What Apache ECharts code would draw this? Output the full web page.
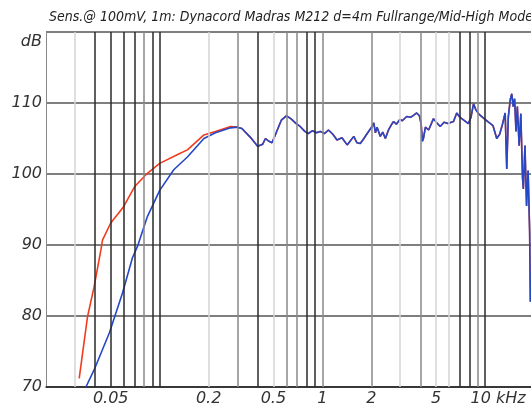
<!DOCTYPE html>
<html>
<head>
<meta charset="utf-8">
<script src="https://cdn.jsdelivr.net/npm/echarts@6/dist/echarts.min.js"></script>
<style>
  html, body { margin: 0; padding: 0; background: #fff; }
  #chart { width: 531px; height: 409px; }
</style>
</head>
<body>
<div id="chart"></div>
<script>
// frequencies in kHz, levels in dB
const redLowFreq = [0.032, 0.036, 0.0395, 0.0435, 0.0445, 0.05, 0.06, 0.07, 0.084, 0.1, 0.128, 0.148, 0.187, 0.22, 0.273];
const redLowDb   = [71.2, 79.9, 84.1, 89.3, 90.7, 93.1, 95.4, 98.2, 100.1, 101.5, 102.7, 103.4, 105.5, 106.0, 106.7];

const blueLowFreq = [0.0352, 0.0395, 0.049, 0.059, 0.068, 0.073, 0.084, 0.1, 0.122, 0.148, 0.187, 0.22, 0.273];
const blueLowDb   = [70.0, 72.4, 77.6, 83.2, 88.2, 89.8, 94.0, 97.7, 100.6, 102.4, 105.0, 105.8, 106.5];

// both measurements coincide above ~0.3 kHz
const highFreq = [0.30, 0.32, 0.36, 0.40, 0.43, 0.447, 0.47, 0.49, 0.52, 0.56, 0.60, 0.64, 0.69, 0.73, 0.78, 0.82, 0.87, 0.92, 0.97,
  1.03, 1.09, 1.16, 1.23, 1.32, 1.42, 1.50, 1.56, 1.63, 1.71, 1.80, 1.90, 2.02, 2.07, 2.12, 2.17, 2.27, 2.35, 2.44, 2.55, 2.65, 2.74, 2.85,
  3.0, 3.1, 3.3, 3.5, 3.65, 3.8, 3.95, 4.05, 4.12, 4.18, 4.3, 4.5, 4.82, 5.05, 5.3, 5.6, 5.9, 6.4, 6.7, 7.0, 7.4, 7.9, 8.2, 8.5, 8.8, 9.2,
  10.0, 10.5, 11.2, 11.8, 12.3, 12.8, 13.3, 13.6, 13.9, 14.3, 14.6, 14.9, 15.2, 15.5, 15.8, 16.2, 16.6, 17.0, 17.2, 17.6, 18.0, 18.4, 18.8, 19.0];
const highDb = [106.6, 106.4, 105.2, 103.9, 104.2, 105.0, 104.6, 104.4, 105.8, 107.6, 108.2, 107.8, 107.1, 106.7, 106.0, 105.7, 106.1, 105.8, 106.0,
  105.7, 106.2, 105.6, 104.8, 105.1, 104.1, 104.8, 105.3, 104.4, 104.3, 105.0, 105.8, 106.7, 107.2, 105.8, 106.6, 105.3, 105.9, 105.0, 106.2, 106.9, 107.4, 107.0,
  107.7, 107.5, 108.1, 108.0, 108.3, 108.6, 108.2, 107.0, 104.6, 105.0, 106.6, 106.2, 107.8, 107.2, 106.7, 107.3, 107.1, 107.4, 108.6, 108.0, 107.6, 107.1, 108.0, 109.9, 109.0, 108.4,
  107.7, 107.3, 106.8, 105.0, 105.6, 107.0, 108.6, 100.7, 108.0, 110.5, 111.3, 109.5, 110.6, 106.0, 109.5, 104.0, 108.5, 99.5, 97.9, 104.0, 95.5, 100.5, 92.0, 82.0];

const freqLabels = [0.05, 0.2, 0.5, 1, 2, 5, 10];
const gridDark  = [0.04, 0.05, 0.06, 0.07, 0.09, 0.1, 0.4, 0.8, 0.9, 7, 8, 10];
const gridMid   = [0.08, 0.3, 0.6, 0.7, 1, 2, 4, 9];
const gridLight = [0.03, 0.2, 0.5, 3, 5, 6];

const pairs = (fs, ds) => fs.map((f, i) => [f, ds[i]]);
const redData = pairs(redLowFreq, redLowDb).concat(pairs(highFreq, highDb));
const blueData = pairs(blueLowFreq, blueLowDb).concat(pairs(highFreq, highDb));

const vLines = (vals, color) => vals.map((v) => ({ xAxis: v, lineStyle: { color: color } }));

const labelFont = { fontFamily: 'DejaVu Sans', fontSize: 16, fontStyle: 'italic', color: '#333' };

const chart = echarts.init(document.getElementById('chart'), null, { renderer: 'canvas' });
chart.setOption({
  backgroundColor: '#fff',
  animation: false,
  title: {
    text: 'Sens.@ 100mV, 1m: Dynacord Madras M212 d=4m Fullrange/Mid-High Mode',
    left: 44,
    top: 5,
    textStyle: { fontFamily: 'DejaVu Sans Condensed, Liberation Sans Narrow, sans-serif', fontSize: 14, fontStyle: 'italic', fontWeight: 'normal', color: '#222' }
  },
  grid: { left: 46, right: -3, top: 32, bottom: 22, outerBoundsMode: 'none' },
  xAxis: {
    type: 'log',
    logBase: 10,
    min: 0.02,
    max: 20,
    axisLine: { lineStyle: { color: '#222', width: 1.5 } },
    axisTick: { show: false },
    splitLine: { show: false },
    minorSplitLine: { show: false },
    axisLabel: Object.assign({}, labelFont, {
      customValues: freqLabels,
      margin: 4,
      formatter: (v) => (Math.abs(v - 10) < 1e-6 ? '{k|10 kHz}' : String(+v.toPrecision(3))),
      rich: { k: Object.assign({}, labelFont, { padding: [0, 0, 0, 26] }) }
    })
  },
  yAxis: {
    type: 'value',
    min: 70,
    max: 120,
    interval: 10,
    axisLine: { show: true, lineStyle: { color: '#888', width: 1 } },
    axisTick: { show: false },
    splitLine: { lineStyle: { color: '#555', width: 1.5 } },
    axisLabel: Object.assign({}, labelFont, {
      margin: 4,
      formatter: (v) => (v === 120 ? '{d|dB}' : String(v)),
      rich: { d: Object.assign({}, labelFont, { padding: [20, 0, 0, 0] }) }
    })
  },
  series: [
    {
      name: 'grid',
      type: 'line',
      data: [],
      z: 1,
      silent: true,
      markLine: {
        silent: true,
        symbol: 'none',
        label: { show: false },
        animation: false,
        lineStyle: { type: 'solid', width: 1.5 },
        data: vLines(gridLight, '#d4d4d4').concat(vLines(gridMid, '#888'), vLines(gridDark, '#2a2a2a'))
      }
    },
    {
      name: 'red',
      type: 'line',
      data: redData,
      z: 3,
      showSymbol: false,
      lineStyle: { color: '#f03c1e', width: 1.6 }
    },
    {
      name: 'blue',
      type: 'line',
      data: blueData,
      z: 4,
      showSymbol: false,
      lineStyle: { color: '#2448c6', width: 1.6 }
    }
  ]
});
</script>
</body>
</html>
